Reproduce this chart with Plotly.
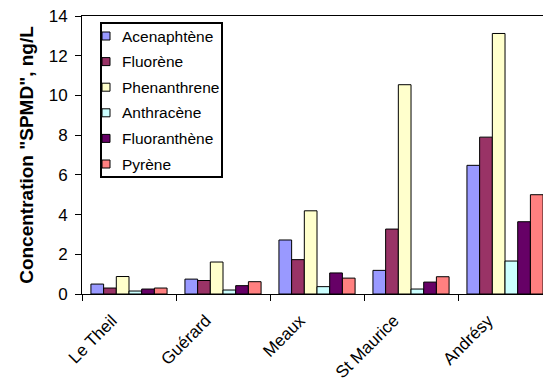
import plotly.graph_objects as go

# Sampling sites along the river
sites = ["Le Theil", "Guérard", "Meaux", "St Maurice", "Andrésy"]

# PAH concentrations measured by SPMD (ng/L)
acenaphtene = [0.50, 0.75, 2.72, 1.19, 6.48]
fluorene = [0.30, 0.68, 1.73, 3.27, 7.90]
phenanthrene = [0.88, 1.61, 4.19, 10.54, 13.12]
anthracene = [0.15, 0.20, 0.37, 0.25, 1.66]
fluoranthene = [0.25, 0.42, 1.06, 0.60, 3.64]
pyrene = [0.30, 0.62, 0.80, 0.87, 5.00]

series = [
    ("Acenaphtène", acenaphtene, "#9999FF"),
    ("Fluorène", fluorene, "#993366"),
    ("Phenanthrene", phenanthrene, "#FFFFCC"),
    ("Anthracène", anthracene, "#CCFFFF"),
    ("Fluoranthène", fluoranthene, "#660066"),
    ("Pyrène", pyrene, "#FF8080"),
]

FONT = "Liberation Sans, Arial, sans-serif"
W, H = 543, 388
L, R, T, B = 82, 0, 16, 94
PW, PH = W - L - R, H - T - B


def px(x):
    """Pixel x -> paper x."""
    return (x - L) / PW


def py(y):
    """Pixel y (from top) -> paper y."""
    return (H - B - y) / PH


fig = go.Figure()
for name, vals, color in series:
    fig.add_trace(go.Bar(
        x=sites, y=vals, name=name, showlegend=False,
        marker=dict(color=color, line=dict(color="black", width=1)),
    ))

# Boxed legend in the upper left of the plot area
shapes = [dict(type="rect", xref="paper", yref="paper",
               x0=px(101), x1=px(222), y0=py(177), y1=py(23),
               line=dict(color="black", width=2), fillcolor="white",
               layer="above")]
annotations = []
for i, (name, vals, color) in enumerate(series):
    yc = 36 + i * 25.6
    shapes.append(dict(type="rect", xref="paper", yref="paper",
                       x0=px(102), x1=px(110), y0=py(yc + 4), y1=py(yc - 4),
                       line=dict(color="black", width=1), fillcolor=color,
                       layer="above"))
    annotations.append(dict(text=name, xref="paper", yref="paper",
                            x=px(120), y=py(yc), xanchor="left",
                            yanchor="middle", showarrow=False,
                            font=dict(size=15.5)))

fig.update_layout(
    width=W, height=H,
    margin=dict(l=L, r=R, t=T, b=B),
    paper_bgcolor="white", plot_bgcolor="white",
    barmode="group", bargap=0.19, bargroupgap=0,
    font=dict(family=FONT, size=16, color="black"),
    shapes=shapes, annotations=annotations,
    xaxis=dict(
        range=[-0.5, 4.404], showline=True, linecolor="black", linewidth=1,
        mirror=True, ticks="outside", ticklen=6, tickcolor="black",
        tickson="boundaries", tickangle=-45, showgrid=False,
        tickfont=dict(size=17), ticklabelstandoff=9, ticklabelshift=-17,
    ),
    yaxis=dict(
        range=[0, 14], dtick=2, showline=True, linecolor="black", linewidth=1,
        ticks="outside", ticklen=6, tickcolor="black", showgrid=False,
        zeroline=False, tickfont=dict(size=17), ticklabelstandoff=4,
        title=dict(text='<b>Concentration "SPMD", ng/L</b>',
                   font=dict(size=19), standoff=10),
    ),
)

fig.write_html("out.html")
